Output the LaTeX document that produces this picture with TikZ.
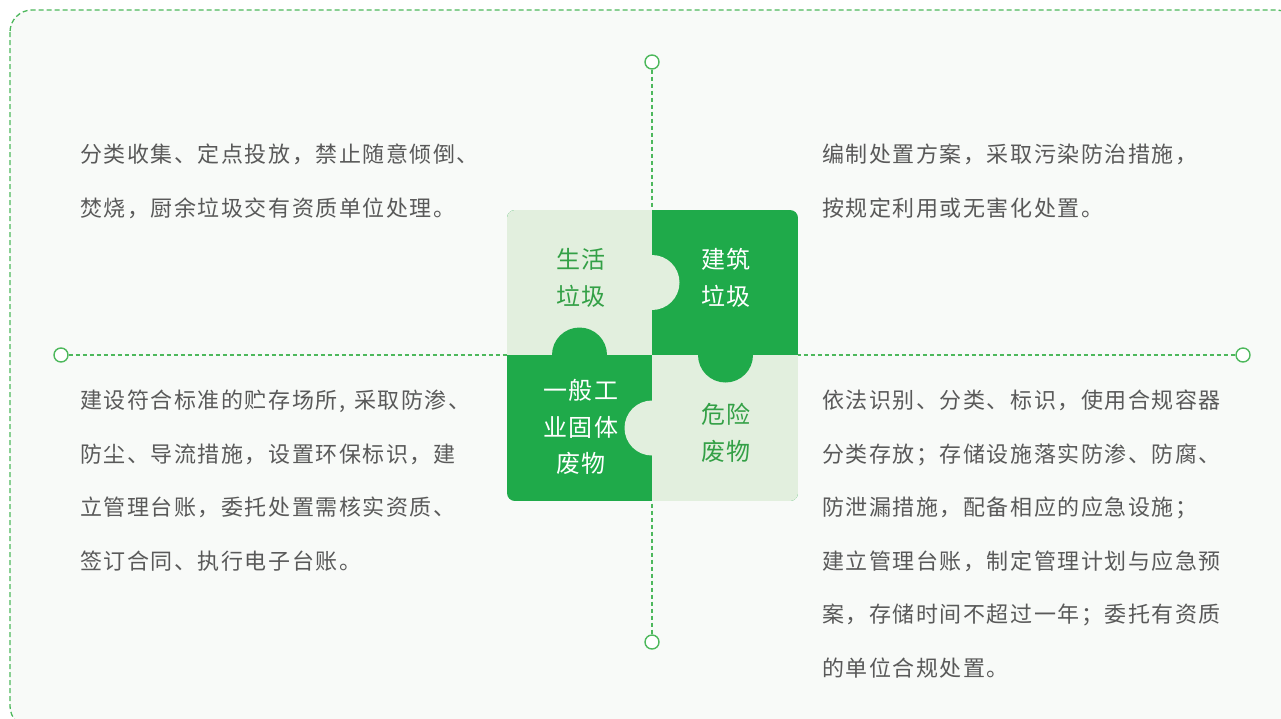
\documentclass[tikz,border=0pt]{standalone}
\usepackage{fontspec}
\setmainfont{Noto Sans CJK SC}
\newfontfamily\bodyfont{Noto Sans CJK SC}[LetterSpace=7]
\newfontfamily\puzfont{Noto Sans CJK SC}[LetterSpace=8]
\definecolor{darkg}{HTML}{1FAA4A}
\definecolor{lightg}{HTML}{E2EFDE}
\definecolor{lineg}{HTML}{4DB85C}
\definecolor{txtg}{HTML}{33A046}
\definecolor{bodytxt}{HTML}{595959}
\definecolor{framebg}{HTML}{F8FAF8}
\tikzset{
  body/.style={anchor=north west, inner sep=0pt, align=left, text=bodytxt,
    font=\bodyfont\fontsize{22}{53.5}\selectfont},
  puz/.style={anchor=center, inner sep=0pt, align=center,
    font=\puzfont\fontsize{24}{36.5}\selectfont},
  endpt/.style={circle, draw=lineg, fill=white, line width=1.4pt, minimum size=14pt, inner sep=0pt},
  guide/.style={draw=lineg, dashed, dash pattern=on 4pt off 3pt, line width=1.1pt}
}
\begin{document}
\begin{tikzpicture}[x=1pt,y=-1pt]
\useasboundingbox (0,0) rectangle (1281,718);
\begin{scope}
\clip (0,0) rectangle (1281,718);
\fill[white] (0,0) rectangle (1281,718);
\draw[fill=framebg, draw=lineg, dash pattern=on 5pt off 3pt, line width=1.3pt, rounded corners=22pt] (10,10) rectangle (1298,728);
\end{scope}
% guide lines with end circles
\node[endpt] (ctop) at (652,62) {};
\node[endpt] (cbot) at (652,642) {};
\node[endpt] (cleft) at (61,355) {};
\node[endpt] (cright) at (1243,355) {};
\draw[guide] (ctop) -- (cbot);
\draw[guide] (cleft) -- (cright);
% puzzle
\begin{scope}
\clip[rounded corners=8pt] (507,210) rectangle (798,501);
\fill[darkg] (507,210) rectangle (798,501);
\fill[lightg] (507,210) rectangle (652,355);
\fill[lightg] (652,355) rectangle (798,501);
\fill[lightg] (652,282.5) circle (27.5);
\fill[darkg] (579.5,355) circle (27.5);
\fill[darkg] (725.5,355) circle (27.5);
\fill[lightg] (652,428) circle (27.5);
\end{scope}
\node[puz, text=txtg] (p1) at (581,278) {生活\\垃圾};
\node[puz, text=white] (p2) at (726,278) {建筑\\垃圾};
\node[puz, text=white] (p3) at (581,427) {一般工\\业固体\\废物};
\node[puz, text=txtg] (p4) at (726,433) {危险\\废物};
% body texts
\node[body] (t1) at (80,144) {分类收集、定点投放，禁止随意倾倒、\\焚烧，厨余垃圾交有资质单位处理。};
\node[body] (t2) at (822,144) {编制处置方案，采取污染防治措施，\\按规定利用或无害化处置。};
\node[body] (t3) at (80,390) {建设符合标准的贮存场所,\hspace{9pt}采取防渗、\\防尘、导流措施，设置环保标识，建\\立管理台账，委托处置需核实资质、\\签订合同、执行电子台账。};
\node[body] (t4) at (822,390) {依法识别、分类、标识，使用合规容器\\分类存放；存储设施落实防渗、防腐、\\防泄漏措施，配备相应的应急设施；\\建立管理台账，制定管理计划与应急预\\案，存储时间不超过一年；委托有资质\\的单位合规处置。};
\end{tikzpicture}
\end{document}
